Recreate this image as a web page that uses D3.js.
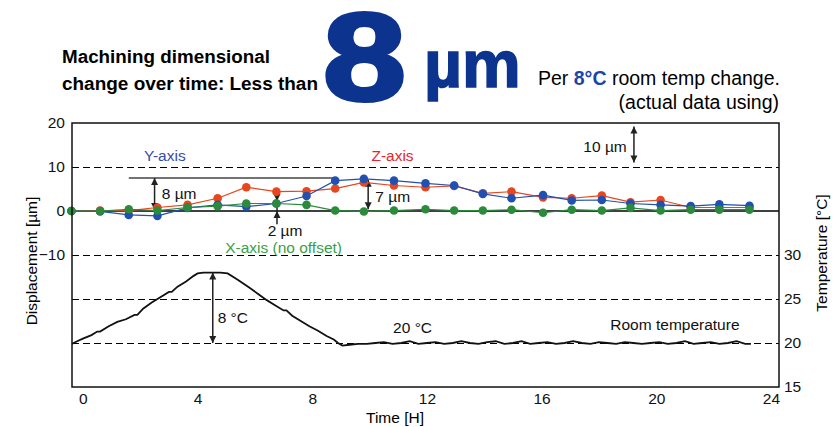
<!DOCTYPE html>
<html>
<head>
<meta charset="utf-8">
<script src="https://cdn.jsdelivr.net/npm/d3@7"></script>
<style>
  body { margin: 0; background: #fff; }
  svg text { font-family: "Liberation Sans", Arial, Helvetica, sans-serif; }
</style>
</head>
<body>
<svg id="chart" width="840" height="427"></svg>
<script>
// measurement times [h]
const hours = [-0.4, 0.6, 1.6, 2.6, 3.65, 4.7, 5.7, 6.75, 7.8, 8.8, 9.8, 10.85,
  11.95, 12.95, 13.95, 14.95, 16.05, 17.05, 18.1, 19.1, 20.15, 21.2, 22.2, 23.25];

// displacement [µm]
const yAxisDisp = [0, -0.1, -0.9, -1.1, 0.7, 1.4, 1.0, 1.7, 3.4, 6.9, 7.3, 6.9,
  6.3, 5.8, 3.9, 2.9, 3.6, 2.4, 2.5, 1.7, 1.4, 1.1, 1.5, 1.2];
const zAxisDisp = [0, 0.1, 0.1, 0.8, 1.4, 2.9, 5.4, 4.4, 4.5, 5.1, 6.5, 5.8,
  5.4, 5.7, 4.0, 4.4, 3.1, 2.9, 3.5, 2.0, 2.5, 0.8, 0.8, 0.8];
const xAxisDisp = [0, 0, 0.4, 0.1, 0.8, 1.1, 1.7, 1.7, 1.4, 0.1, -0.1, 0.1,
  0.4, 0.1, 0.1, 0.3, -0.4, 0.3, 0.1, 0.7, 0.1, 0.3, 0.3, 0.3];

// room temperature [h, °C]
const roomTemp = [
  [-0.38, 19.9], [-0.2, 20.2], [0, 20.5], [0.3, 20.9], [0.5, 21.3], [0.6, 21.3], [0.9, 21.9],
  [1.2, 22.4], [1.5, 22.7], [1.8, 23.2], [1.9, 23.2], [2.1, 23.9], [2.4, 24.6], [2.7, 25.2],
  [3.0, 25.8], [3.1, 25.8], [3.3, 26.4], [3.6, 27.0], [3.85, 27.6], [4.0, 27.9], [4.2, 28.0],
  [4.5, 28.0], [4.8, 28.0], [5.05, 27.9], [5.4, 27.2], [5.8, 26.3], [6.1, 25.6],
  [6.4, 24.9], [6.7, 24.3], [7.0, 23.7], [7.1, 23.7], [7.3, 23.1], [7.6, 22.5], [7.9, 21.9],
  [8.2, 21.4], [8.5, 20.8], [8.75, 20.4], [8.9, 20.0], [9.05, 19.7], [9.3, 19.8],
  [9.6, 19.9], [9.9, 19.9], [10.2, 20.0], [10.5, 20.1], [10.8, 19.9], [11.1, 20.0],
  [11.4, 20.2], [11.7, 19.9], [12.0, 20.0], [12.3, 20.1], [12.6, 19.9], [12.9, 20.0],
  [13.2, 20.2], [13.5, 20.0], [13.8, 19.9], [14.1, 20.1], [14.4, 20.2], [14.7, 19.9],
  [15.0, 20.0], [15.3, 20.2], [15.6, 19.9], [15.9, 20.0], [16.2, 20.1], [16.5, 19.9],
  [16.8, 20.0], [17.1, 20.2], [17.4, 20.0], [17.7, 19.9], [18.0, 20.1], [18.3, 20.0],
  [18.6, 19.9], [18.9, 20.1], [19.2, 20.0], [19.5, 19.9], [19.8, 20.0], [20.1, 20.1],
  [20.4, 19.9], [20.7, 20.0], [21.0, 20.2], [21.3, 19.9], [21.6, 20.0], [21.9, 20.1],
  [22.2, 19.9], [22.5, 20.0], [22.8, 20.2], [23.1, 19.9], [23.3, 19.9]
];

const timeTicks = [0, 4, 8, 12, 16, 20, 24];
const dispTicks = [-10, 0, 10, 20];
const tempTicks = [15, 20, 25, 30];
const dispGrid = [10];
const tempGrid = [30, 25, 20];

const plot = { left: 72, right: 779, top: 123, bottom: 387 };
const svg = d3.select("#chart");

const x = d3.scaleLinear().domain([-0.38, 24.28]).range([plot.left, plot.right]);
const yD = d3.scaleLinear().domain([-40, 20]).range([plot.bottom, plot.top]);
const yT = d3.scaleLinear().domain([15, 45]).range([plot.bottom, plot.top]);

// title
const title = svg.append("g");
title.append("text").attr("x", 62).attr("y", 63)
  .attr("font-size", 18).attr("font-weight", "bold")
  .attr("textLength", 208).attr("lengthAdjust", "spacingAndGlyphs")
  .text("Machining dimensional");
title.append("text").attr("x", 62).attr("y", 90)
  .attr("font-size", 18).attr("font-weight", "bold")
  .attr("textLength", 256).attr("lengthAdjust", "spacingAndGlyphs")
  .text("change over time: Less than");
title.append("text").attr("x", 323).attr("y", 100)
  .attr("font-size", 125).attr("font-weight", "bold")
  .attr("fill", "#0c348f").attr("stroke", "#0c348f").attr("stroke-width", 4)
  .attr("textLength", 83).attr("lengthAdjust", "spacingAndGlyphs")
  .text("8");
title.append("text").attr("x", 424).attr("y", 87)
  .attr("font-size", 66).attr("font-weight", "bold")
  .attr("fill", "#0c348f").attr("stroke", "#0c348f").attr("stroke-width", 1.5)
  .text("µm");
const per = title.append("text").attr("x", 538).attr("y", 85).attr("font-size", 19.5);
per.append("tspan").text("Per ");
per.append("tspan").attr("fill", "#1d45a6").attr("font-weight", "bold").text("8°C");
per.append("tspan").text(" room temp change.");
title.append("text").attr("x", 779).attr("y", 109).attr("font-size", 19.5)
  .attr("text-anchor", "end").text("(actual data using)");

// grid lines
const grid = svg.append("g").attr("stroke", "#000").attr("stroke-width", 1)
  .attr("stroke-dasharray", "7,4").attr("shape-rendering", "crispEdges");
grid.selectAll(".gd").data(dispGrid).join("line")
  .attr("x1", plot.left).attr("x2", plot.right)
  .attr("y1", d => yD(d)).attr("y2", d => yD(d));
grid.selectAll(".gt").data(tempGrid).join("line")
  .attr("x1", plot.left).attr("x2", plot.right)
  .attr("y1", d => yT(d)).attr("y2", d => yT(d));

svg.append("line").attr("x1", plot.left).attr("x2", plot.right)
  .attr("y1", yD(0)).attr("y2", yD(0)).attr("stroke", "#000").attr("stroke-width", 1.3);

// temperature trace
svg.append("path").datum(roomTemp)
  .attr("fill", "none").attr("stroke", "#111").attr("stroke-width", 1.8)
  .attr("d", d3.line().x(d => x(d[0])).y(d => yT(d[1])));

// annotation arrows
const arrowColor = "#222";
function head(g, cx, tipY, dir) {
  g.append("path")
    .attr("d", `M${cx},${tipY}L${cx - 3.5},${tipY - dir * 7}L${cx + 3.5},${tipY - dir * 7}Z`)
    .attr("fill", arrowColor);
}
function dimArrow(t, from, to, scale) {
  const g = svg.append("g");
  const cx = x(t);
  g.append("line").attr("x1", cx).attr("x2", cx)
    .attr("y1", scale(from)).attr("y2", scale(to))
    .attr("stroke", arrowColor).attr("stroke-width", 1.5);
  head(g, cx, scale(from), -1);
  head(g, cx, scale(to), 1);
}
svg.append("line").attr("x1", x(hours[2])).attr("x2", x(hours[9]))
  .attr("y1", yD(7.5)).attr("y2", yD(7.5))
  .attr("stroke", "#444").attr("stroke-width", 1.3);
dimArrow(2.5, 7.5, 0.2, yD);
dimArrow(9.95, 7.1, 0.4, yD);
dimArrow(19.22, 19.2, 11.0, yD);
dimArrow(4.53, 28, 20, yT);

// 2 µm marker (arrows pointing inward)
const g2 = svg.append("g");
g2.append("line").attr("x1", x(6.77)).attr("x2", x(6.77))
  .attr("y1", yD(4.8)).attr("y2", yD(-3))
  .attr("stroke", arrowColor).attr("stroke-width", 1.5);
head(g2, x(6.77), yD(2.3), 1);
head(g2, x(6.77), yD(0), -1);

// series
const series = [
  { values: zAxisDisp, color: "#e8461e" },
  { values: yAxisDisp, color: "#2150b0" },
  { values: xAxisDisp, color: "#2b8a3b" }
];
series.forEach(s => {
  const pts = hours.map((h, i) => [h, s.values[i]]);
  svg.append("path").datum(pts)
    .attr("fill", "none").attr("stroke", s.color).attr("stroke-width", 1.2)
    .attr("d", d3.line().x(d => x(d[0])).y(d => yD(d[1])));
  svg.append("g").selectAll("circle").data(pts).join("circle")
    .attr("cx", d => x(d[0])).attr("cy", d => yD(d[1])).attr("r", 4.3)
    .attr("fill", s.color);
});

// frame
svg.append("rect").attr("x", plot.left).attr("y", plot.top)
  .attr("width", plot.right - plot.left).attr("height", plot.bottom - plot.top)
  .attr("fill", "none").attr("stroke", "#111").attr("stroke-width", 1.5);

// axes
const fs = 15.5;
const axL = svg.append("g").attr("transform", `translate(${plot.left},0)`)
  .call(d3.axisLeft(yD).tickValues(dispTicks).tickSize(0).tickPadding(7));
const axR = svg.append("g").attr("transform", `translate(${plot.right},0)`)
  .call(d3.axisRight(yT).tickValues(tempTicks).tickSize(0).tickPadding(5));
const axB = svg.append("g").attr("transform", `translate(0,${plot.bottom})`)
  .call(d3.axisBottom(x).tickValues(timeTicks).tickSize(0).tickPadding(6));
[axL, axR, axB].forEach(a => {
  a.select(".domain").remove();
  a.selectAll("text").attr("font-size", fs).attr("fill", "#111")
    .style("font-family", '"Liberation Sans", Arial, sans-serif');
});

svg.append("text").attr("x", 395).attr("y", 423).attr("text-anchor", "middle")
  .attr("font-size", fs).text("Time [H]");
svg.append("text").attr("transform", `translate(37,261) rotate(-90)`)
  .attr("text-anchor", "middle").attr("font-size", fs).text("Displacement [µm]");
svg.append("text").attr("transform", `translate(827,253) rotate(-90)`)
  .attr("text-anchor", "middle").attr("font-size", fs).text("Temperature [°C]");

// labels
function label(t, v, scale, txt, color, anchor) {
  svg.append("text").attr("x", x(t)).attr("y", scale(v))
    .attr("dy", "0.35em").attr("text-anchor", anchor || "start")
    .attr("font-size", fs).attr("fill", color || "#111").text(txt);
}
label(2.86, 12.5, yD, "Y-axis", "#3a4aa8", "middle");
label(10.8, 12.5, yD, "Z-axis", "#e8262a", "middle");
label(7.0, -8.2, yD, "X-axis (no offset)", "#3aa048", "middle");
label(2.75, 3.9, yD, "8 µm");
label(7.05, -4.5, yD, "2 µm", null, "middle");
label(10.2, 3.2, yD, "7 µm");
label(18.97, 14.6, yD, "10 µm", null, "end");
label(4.7, 22.9, yT, "8 °C");
label(11.5, 21.8, yT, "20 °C", null, "middle");
label(20.65, 22.1, yT, "Room temperature", null, "middle");
</script>
</body>
</html>
